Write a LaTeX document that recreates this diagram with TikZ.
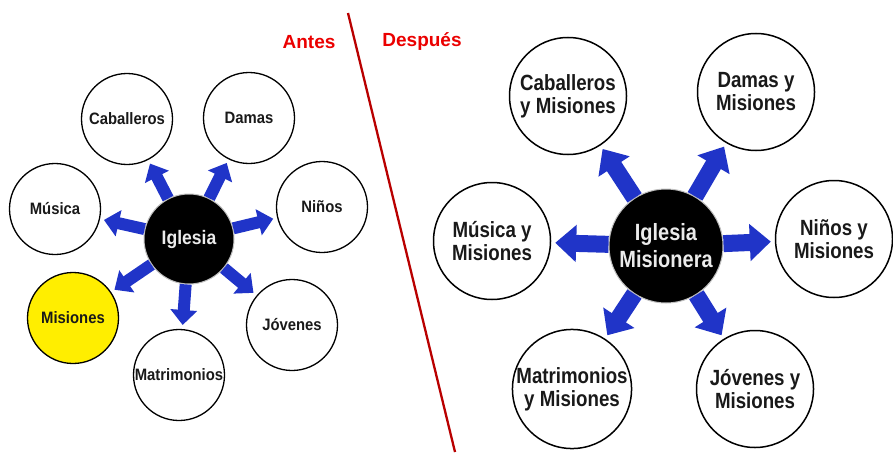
\documentclass[tikz,border=0pt]{standalone}
\usepackage{fontspec}
\setmainfont{Liberation Sans}
\newfontfamily\narrowfont[FakeStretch=0.9]{Liberation Sans}
\newfontfamily\condfont[FakeStretch=0.85]{Liberation Sans}
\usetikzlibrary{arrows.meta}
\definecolor{arrowblue}{RGB}{32,52,200}
\definecolor{titlered}{RGB}{235,0,0}
\definecolor{linered}{RGB}{185,0,0}
\definecolor{misyellow}{RGB}{255,238,0}
\begin{document}
\begin{tikzpicture}[x=1pt,y=-1pt,
  smallc/.style={circle,draw=black,line width=1.3pt,minimum size=91pt,inner sep=0pt,align=center,
    text=black!90,font=\narrowfont\bfseries\fontsize{16.5}{19}\selectfont},
  bigc/.style={circle,draw=black,line width=1.5pt,minimum size=117pt,inner sep=0pt,align=center,
    text=black!90,font=\condfont\bfseries\fontsize{22}{23}\selectfont},
  hubsmall/.style={circle,fill=black,draw=gray!50,line width=1pt,minimum size=90pt,inner sep=0pt,
    text=white!92!black,font=\narrowfont\bfseries\fontsize{19.5}{22}\selectfont},
  hubbig/.style={circle,fill=black,draw=gray!50,line width=1pt,minimum size=114pt,inner sep=0pt,align=center,
    text=white!92!black,font=\condfont\bfseries\fontsize{23.5}{27}\selectfont},
  smallarrow/.style={draw=arrowblue,line width=12pt,-{Triangle[length=15pt,width=26pt]},shorten >=4pt},
  bigarrow/.style={draw=arrowblue,line width=17pt,-{Triangle[length=21pt,width=36pt]},shorten >=4pt},
  title/.style={text=titlered,font=\bfseries\fontsize{19}{22}\selectfont}
]
\useasboundingbox (0,0) rectangle (893,452);
\fill[white] (0,0) rectangle (893,452);

% divider and titles
\coordinate (lt) at (348,13);
\coordinate (lb) at (455,452);
\draw[linered,line width=2.3pt] (lt) -- (lb);
\node[title] (antes) at (309,42) {Antes};
\node[title] (despues) at (422,42) {Después};

% ---- Antes ----
\node[hubsmall] (hubL) at (189,239) {Iglesia};
\node[smallc] (cab) at (127,119) {Caballeros};
\node[smallc] (dam) at (249,118) {Damas};
\node[smallc] (nin) at (322,207) {Niños};
\node[smallc] (jov) at (292,325) {Jóvenes};
\node[smallc] (mat) at (179,375) {Matrimonios};
\node[smallc,fill=misyellow] (mis) at (73,318) {Misiones};
\node[smallc] (mus) at (55,209) {Música};

\foreach \t in {cab,dam,nin,jov,mat,mis,mus}
  \draw[smallarrow] (hubL) -- (\t);

% ---- Después ----
\node[hubbig] (hubR) at (666,246) {Iglesia\\Misionera};
\node[bigc] (cabm) at (568,96) {Caballeros\\y Misiones};
\node[bigc] (damm) at (756,92) {Damas y\\Misiones};
\node[bigc] (ninm) at (834,239) {Niños y\\Misiones};
\node[bigc] (jovm) at (755,389) {Jóvenes y\\Misiones};
\node[bigc] (matm) at (572,389) {Matrimonios\\y Misiones};
\node[bigc] (musm) at (492,241) {Música y\\Misiones};

\foreach \t in {cabm,damm,ninm,jovm,matm,musm}
  \draw[bigarrow] (hubR) -- (\t);
\end{tikzpicture}
\end{document}
